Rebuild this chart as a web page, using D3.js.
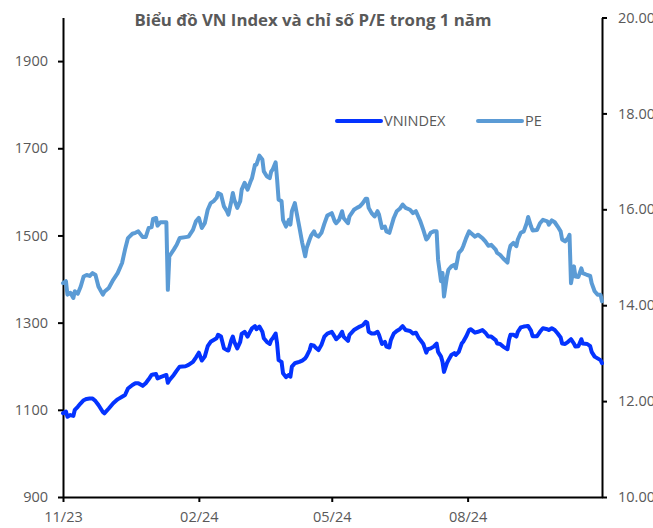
<!DOCTYPE html>
<html>
<head>
<meta charset="utf-8">
<script src="https://cdn.jsdelivr.net/npm/d3@7"></script>
<style>
  body { margin: 0; background: #fff; }
  svg { display: block; }
  .axis text { fill: #595959; font-family: "Open Sans", sans-serif; font-size: 14.5px; }
  .axis path, .axis line { stroke: #000; stroke-width: 2px; }
</style>
</head>
<body>
<script>
// VN Index vs P/E, 1 year of sessions
var dates = [
  "2023-11-14","2023-11-16","2023-11-17","2023-11-19","2023-11-21","2023-11-22","2023-11-24","2023-11-26","2023-11-28","2023-11-30",
  "2023-12-02","2023-12-04","2023-12-06","2023-12-08","2023-12-11","2023-12-12","2023-12-15","2023-12-18","2023-12-21","2023-12-24",
  "2023-12-26","2023-12-28","2023-12-31","2024-01-02","2024-01-04","2024-01-07","2024-01-09","2024-01-11","2024-01-13","2024-01-14",
  "2024-01-16","2024-01-17","2024-01-19","2024-01-23","2024-01-24","2024-01-25","2024-01-28","2024-01-30","2024-02-01","2024-02-05",
  "2024-02-07","2024-02-10","2024-02-12","2024-02-14","2024-02-16","2024-02-18","2024-02-20","2024-02-22","2024-02-24","2024-02-26",
  "2024-02-27","2024-02-29","2024-03-02","2024-03-04","2024-03-05","2024-03-07","2024-03-08","2024-03-09","2024-03-11","2024-03-13",
  "2024-03-14","2024-03-16","2024-03-18","2024-03-20","2024-03-21","2024-03-23","2024-03-24","2024-03-26","2024-03-28","2024-03-29",
  "2024-03-31","2024-04-02","2024-04-03","2024-04-04","2024-04-06","2024-04-07","2024-04-08","2024-04-10","2024-04-11","2024-04-13",
  "2024-04-15","2024-04-16","2024-04-17","2024-04-19","2024-04-20","2024-04-22","2024-04-24","2024-04-26","2024-04-27","2024-04-29",
  "2024-04-30","2024-05-02","2024-05-03","2024-05-05","2024-05-07","2024-05-09","2024-05-11","2024-05-14","2024-05-16","2024-05-17",
  "2024-05-19","2024-05-21","2024-05-22","2024-05-25","2024-05-26","2024-05-29","2024-05-31","2024-06-02","2024-06-04","2024-06-06",
  "2024-06-07","2024-06-08","2024-06-10","2024-06-12","2024-06-14","2024-06-15","2024-06-17","2024-06-19","2024-06-20","2024-06-22",
  "2024-06-23","2024-06-25","2024-06-27","2024-06-29","2024-07-01","2024-07-03","2024-07-06","2024-07-08","2024-07-10","2024-07-12",
  "2024-07-13","2024-07-15","2024-07-17","2024-07-18","2024-07-20","2024-07-22","2024-07-24","2024-07-25","2024-07-27","2024-07-28",
  "2024-07-29","2024-07-31","2024-08-01","2024-08-03","2024-08-05","2024-08-06","2024-08-08","2024-08-10","2024-08-11","2024-08-13",
  "2024-08-15","2024-08-16","2024-08-19","2024-08-21","2024-08-24","2024-08-26","2024-08-28","2024-08-30","2024-09-02","2024-09-03",
  "2024-09-05","2024-09-07","2024-09-10","2024-09-11","2024-09-12","2024-09-14","2024-09-16","2024-09-17","2024-09-19","2024-09-21",
  "2024-09-23","2024-09-24","2024-09-26","2024-09-27","2024-09-30","2024-10-02","2024-10-04","2024-10-07","2024-10-08","2024-10-10",
  "2024-10-12","2024-10-14","2024-10-16","2024-10-17","2024-10-19","2024-10-21","2024-10-22","2024-10-23","2024-10-25","2024-10-26",
  "2024-10-28","2024-10-30","2024-10-31","2024-11-03","2024-11-05","2024-11-06","2024-11-08","2024-11-10","2024-11-12","2024-11-13"
];

var vnindex = [
  1092,1096,1084,1088,1086,1100,1107,1115,1122,1125,
  1126,1126,1120,1111,1095,1092,1103,1115,1124,1130,
  1134,1149,1157,1161,1161,1155,1161,1170,1180,1181,
  1182,1172,1175,1180,1162,1168,1180,1190,1199,1200,
  1203,1210,1220,1231,1213,1222,1246,1256,1260,1264,
  1272,1268,1241,1237,1236,1260,1268,1256,1241,1256,
  1274,1279,1268,1281,1287,1292,1285,1291,1279,1264,
  1256,1251,1260,1264,1275,1252,1214,1210,1184,1175,
  1180,1176,1199,1207,1208,1210,1213,1218,1223,1237,
  1249,1247,1243,1237,1249,1268,1275,1279,1268,1262,
  1268,1279,1268,1258,1272,1283,1287,1291,1294,1302,
  1300,1279,1275,1275,1279,1272,1251,1256,1245,1243,
  1260,1275,1281,1285,1292,1283,1281,1275,1277,1264,
  1260,1251,1231,1239,1241,1245,1252,1233,1222,1210,
  1187,1207,1214,1226,1230,1226,1233,1252,1256,1268,
  1283,1285,1277,1279,1283,1277,1268,1268,1260,1252,
  1251,1245,1239,1260,1272,1272,1268,1279,1289,1291,
  1292,1292,1281,1269,1269,1279,1287,1285,1283,1287,
  1283,1275,1266,1252,1251,1256,1259,1262,1252,1245,
  1246,1262,1252,1251,1246,1233,1222,1218,1214,1207
];

var pe = [
  14.46,14.50,14.22,14.26,14.15,14.29,14.24,14.39,14.60,14.63,
  14.61,14.67,14.63,14.39,14.22,14.28,14.36,14.53,14.67,14.88,
  15.16,15.40,15.49,15.51,15.54,15.42,15.42,15.61,15.63,15.80,
  15.82,15.66,15.73,15.73,14.32,15.02,15.16,15.26,15.40,15.42,
  15.43,15.57,15.75,15.82,15.61,15.71,15.99,16.13,16.17,16.24,
  16.34,16.31,16.06,15.96,15.89,16.17,16.34,16.20,16.03,16.17,
  16.41,16.55,16.41,16.58,16.65,16.93,16.93,17.12,17.04,16.79,
  16.69,16.65,16.79,16.83,16.98,16.62,16.20,16.17,15.78,15.64,
  15.78,15.68,15.96,16.13,15.96,15.64,15.30,15.02,15.19,15.37,
  15.45,15.54,15.47,15.43,15.51,15.70,15.87,15.92,15.75,15.71,
  15.78,15.96,15.82,15.71,15.85,15.99,16.03,16.06,16.13,16.22,
  16.22,16.03,15.92,15.85,15.96,15.89,15.61,15.64,15.54,15.51,
  15.61,15.82,15.96,16.01,16.10,16.03,15.99,15.92,15.96,15.82,
  15.75,15.57,15.37,15.40,15.51,15.54,15.54,14.95,14.50,14.67,
  14.18,14.60,14.74,14.81,14.84,14.77,15.09,15.16,15.23,15.40,
  15.54,15.51,15.43,15.47,15.40,15.33,15.24,15.26,15.16,15.09,
  15.05,14.98,14.89,15.12,15.24,15.30,15.23,15.37,15.51,15.54,
  15.71,15.84,15.64,15.56,15.57,15.71,15.78,15.75,15.68,15.77,
  15.73,15.64,15.54,15.37,15.33,15.40,15.47,14.46,14.81,14.60,
  14.59,14.77,14.67,14.63,14.61,14.46,14.29,14.22,14.22,14.08
];

var xTicks = ["2023-11-14","2024-02-14","2024-05-14","2024-08-14"];
var leftTicks = [900,1100,1300,1500,1700,1900];
var rightTicks = [10,12,14,16,18,20];
var seriesNames = ["VNINDEX","PE"];
var colors = ["#0433ff","#5b9bd5"];

var parse = d3.timeParse("%Y-%m-%d");
var data = dates.map(function (d, i) {
  return { date: parse(d), vn: vnindex[i], pe: pe[i] };
});

var W = 653, H = 528;
var margin = { top: 17.5, right: 51, bottom: 31, left: 63 };
var w = W - margin.left - margin.right;
var h = H - margin.top - margin.bottom;

var svg = d3.select("body").append("svg")
    .attr("width", W)
    .attr("height", H);

// title
svg.append("text")
    .attr("x", 313)
    .attr("y", 26)
    .attr("text-anchor", "middle")
    .attr("textLength", 357)
    .attr("lengthAdjust", "spacingAndGlyphs")
    .style("font-family", "'Open Sans', sans-serif")
    .style("font-weight", "bold")
    .style("font-size", "16.5px")
    .style("fill", "#595959")
    .text("Biểu đồ VN Index và chỉ số P/E trong 1 năm");

var g = svg.append("g")
    .attr("transform", "translate(" + margin.left + "," + margin.top + ")");

// scales
var x = d3.scaleTime()
    .domain([parse(dates[0]), parse(dates[dates.length - 1])])
    .range([0, w]);
var yL = d3.scaleLinear().domain([900, 2000]).range([h, 0]);
var yR = d3.scaleLinear().domain([10, 20]).range([h, 0]);

// axes
g.append("g")
    .attr("class", "axis")
    .attr("transform", "translate(0," + h + ")")
    .call(d3.axisBottom(x)
      .tickValues(xTicks.map(parse))
      .tickFormat(d3.timeFormat("%m/%y"))
      .tickSize(5).tickSizeOuter(0).tickPadding(10));

g.append("g")
    .attr("class", "axis")
    .call(d3.axisLeft(yL)
      .tickValues(leftTicks)
      .tickFormat(d3.format("d"))
      .tickSize(5).tickSizeOuter(0).tickPadding(10));

g.append("g")
    .attr("class", "axis")
    .attr("transform", "translate(" + w + ",0)")
    .call(d3.axisRight(yR)
      .tickValues(rightTicks)
      .tickFormat(d3.format(".2f"))
      .tickSize(5).tickSizeOuter(0).tickPadding(11));

// lines
var vnLine = d3.line()
    .x(function (d) { return x(d.date) })
    .y(function (d) { return yL(d.vn) });
var peLine = d3.line()
    .x(function (d) { return x(d.date) })
    .y(function (d) { return yR(d.pe) });

g.append("path")
    .datum(data)
    .attr("d", peLine)
    .attr("fill", "none")
    .attr("stroke", colors[1])
    .attr("stroke-width", 4)
    .attr("stroke-linejoin", "round")
    .attr("stroke-linecap", "round");

g.append("path")
    .datum(data)
    .attr("d", vnLine)
    .attr("fill", "none")
    .attr("stroke", colors[0])
    .attr("stroke-width", 4)
    .attr("stroke-linejoin", "round")
    .attr("stroke-linecap", "round");

// legend
var legend = svg.append("g").attr("transform", "translate(337,121)");
var item = legend.selectAll("g")
    .data(seriesNames)
    .enter().append("g")
    .attr("transform", function (d, i) { return "translate(" + (i * 141) + ",0)" });
item.append("line")
    .attr("x1", 0).attr("x2", 44)
    .attr("stroke", function (d, i) { return colors[i] })
    .attr("stroke-width", 4)
    .attr("stroke-linecap", "round");
item.append("text")
    .attr("x", 47)
    .attr("dy", "0.35em")
    .style("font-family", "'Open Sans', sans-serif")
    .style("font-size", "14.5px")
    .style("fill", "#595959")
    .text(function (d) { return d });
</script>
</body>
</html>
